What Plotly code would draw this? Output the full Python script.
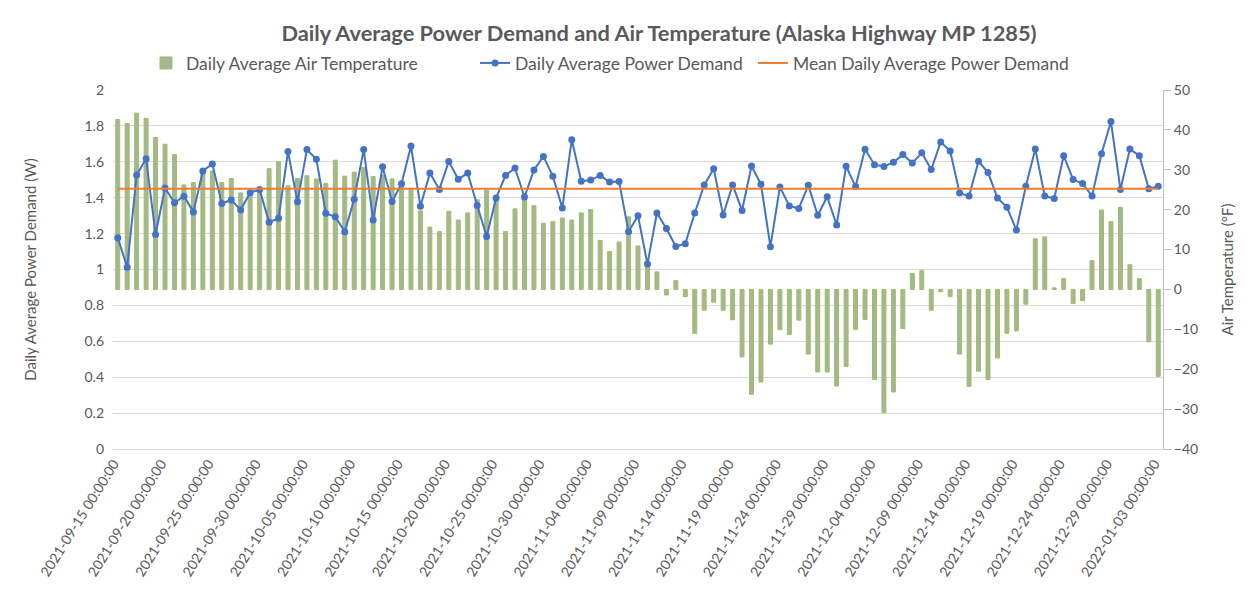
import plotly.graph_objects as go
import pandas as pd

# ---------------- data ----------------
start_date = "2021-09-15"
end_date = "2022-01-03"
dates = pd.date_range(start_date, end_date, freq="D")

power_demand = [
    1.177, 1.012, 1.526, 1.617, 1.195, 1.454, 1.372, 1.408, 1.321, 1.549,
    1.588, 1.368, 1.387, 1.332, 1.428, 1.446, 1.263, 1.285, 1.658, 1.377,
    1.668, 1.614, 1.313, 1.294, 1.210, 1.392, 1.668, 1.276, 1.572, 1.379,
    1.478, 1.688, 1.352, 1.537, 1.446, 1.602, 1.503, 1.537, 1.357, 1.184,
    1.398, 1.524, 1.565, 1.404, 1.555, 1.630, 1.520, 1.343, 1.723, 1.492,
    1.498, 1.524, 1.487, 1.490, 1.210, 1.300, 1.030, 1.315, 1.228, 1.128,
    1.144, 1.315, 1.471, 1.561, 1.304, 1.471, 1.329, 1.577, 1.475, 1.127,
    1.460, 1.354, 1.340, 1.469, 1.302, 1.405, 1.248, 1.575, 1.462, 1.670,
    1.584, 1.574, 1.597, 1.640, 1.593, 1.650, 1.557, 1.710, 1.660, 1.426,
    1.409, 1.603, 1.540, 1.399, 1.347, 1.220, 1.464, 1.671, 1.409, 1.396,
    1.634, 1.501, 1.479, 1.409, 1.645, 1.824, 1.446, 1.671, 1.634, 1.450,
    1.464,
]

air_temperature = [
    42.6, 41.6, 44.2, 42.9, 38.1, 36.4, 33.8, 26.2, 26.8, 30.0,
    29.7, 26.8, 27.8, 24.2, 24.8, 25.6, 30.3, 32.0, 26.0, 27.8,
    28.5, 27.7, 26.6, 32.4, 28.4, 29.4, 30.6, 28.3, 28.7, 27.7,
    26.3, 25.2, 19.7, 15.6, 14.5, 19.6, 17.4, 19.2, 22.5, 24.9,
    23.0, 14.5, 20.2, 23.4, 21.0, 16.6, 17.0, 17.9, 17.4, 19.2,
    20.0, 12.3, 9.5, 11.9, 18.2, 10.9, 5.9, 4.4, -1.4, 2.2,
    -1.8, -11.0, -5.2, -3.2, -5.2, -7.6, -16.9, -26.3, -23.2, -13.7,
    -10.1, -11.3, -7.7, -16.2, -20.7, -20.7, -24.2, -19.3, -10.0, -7.5,
    -22.6, -30.9, -25.7, -9.8, 4.0, 4.7, -5.2, -0.6, -1.8, -16.2,
    -24.3, -20.5, -22.6, -17.2, -11.0, -10.4, -3.7, 12.7, 13.2, 0.4,
    2.7, -3.5, -2.8, 7.2, 19.9, 17.0, 20.6, 6.2, 2.7, -13.1,
    -21.8,
]

mean_power_demand = 1.45

tick_dates = dates[::5]
tick_labels = [d.strftime("%Y-%m-%d 00:00:00") for d in tick_dates]

# ---------------- styles ----------------
FONT = "Lato, 'Open Sans', sans-serif"
GREY = "#595959"
DAY_MS = 86400000
LEG_FONT = dict(size=17.5, color=GREY, family=FONT)

fig = go.Figure()

fig.add_trace(go.Bar(
    x=dates, y=air_temperature, name="Daily Average Air Temperature",
    yaxis="y", width=0.42 * DAY_MS, legend="legend",
    marker=dict(color="#a7b597", line=dict(color="#9cc062", width=1)),
))
fig.add_trace(go.Scatter(
    x=dates, y=power_demand, name="Daily Average Power Demand",
    yaxis="y2", mode="lines+markers", legend="legend2",
    line=dict(color="#4472C4", width=2),
    marker=dict(color="#4472C4", size=7),
))
fig.add_trace(go.Scatter(
    x=dates, y=[mean_power_demand] * len(dates),
    name="Mean Daily Average Power Demand",
    yaxis="y2", mode="lines", legend="legend3",
    line=dict(color="#ED7D31", width=2),
))

x0 = dates[0] - pd.Timedelta(hours=12)
x1 = dates[-1] + pd.Timedelta(hours=12)

legend_common = dict(orientation="h", xanchor="left", y=1.075, yanchor="middle",
                     font=LEG_FONT, bgcolor="rgba(0,0,0,0)")

fig.update_layout(
    width=1243, height=583,
    margin=dict(l=105, r=88, t=82, b=140),
    paper_bgcolor="white", plot_bgcolor="white",
    font=dict(family=FONT, color=GREY, size=14),
    title=dict(
        text="<b>Daily Average Power Demand and Air Temperature (Alaska Highway MP 1285)</b>",
        font=dict(size=21.8, color=GREY, family=FONT),
        x=0.52, xref="paper", xanchor="center",
        y=1 - 25 / 583, yref="container", yanchor="middle",
    ),
    showlegend=True,
    legend=dict(x=0.0314, **legend_common),
    legend2=dict(x=0.3448, **legend_common),
    legend3=dict(x=0.6095, **legend_common),
    bargap=0.5,
    xaxis=dict(
        type="date", range=[x0, x1],
        tickmode="array", tickvals=tick_dates, ticktext=tick_labels,
        tickangle=-58, tickfont=dict(size=14, color=GREY),
        ticklabelshift=-4,
        showgrid=False, zeroline=False,
        showline=True, linecolor="#d9d9d9", linewidth=1,
        ticks="",
    ),
    yaxis=dict(
        side="right", range=[-40, 50], dtick=10, tickmode="linear", tick0=0,
        showgrid=False, zeroline=False,
        showline=True, linecolor="#bfbfbf", linewidth=1,
        ticks="outside", ticklen=7, tickcolor="#bfbfbf",
        tickfont=dict(size=14, color=GREY),
        title=dict(text="Air Temperature (°F)", font=dict(size=15, color=GREY), standoff=25),
    ),
    yaxis2=dict(
        side="left", overlaying="y", range=[0, 2], dtick=0.2, tickmode="linear", tick0=0,
        showgrid=True, gridcolor="#d9d9d9", gridwidth=1,
        zeroline=False, showline=False, ticks="",
        ticklabelstandoff=8,
        tickfont=dict(size=14, color=GREY),
        title=dict(text="Daily Average Power Demand (W)", font=dict(size=15, color=GREY), standoff=44),
    ),
)

fig.write_html("out.html")
